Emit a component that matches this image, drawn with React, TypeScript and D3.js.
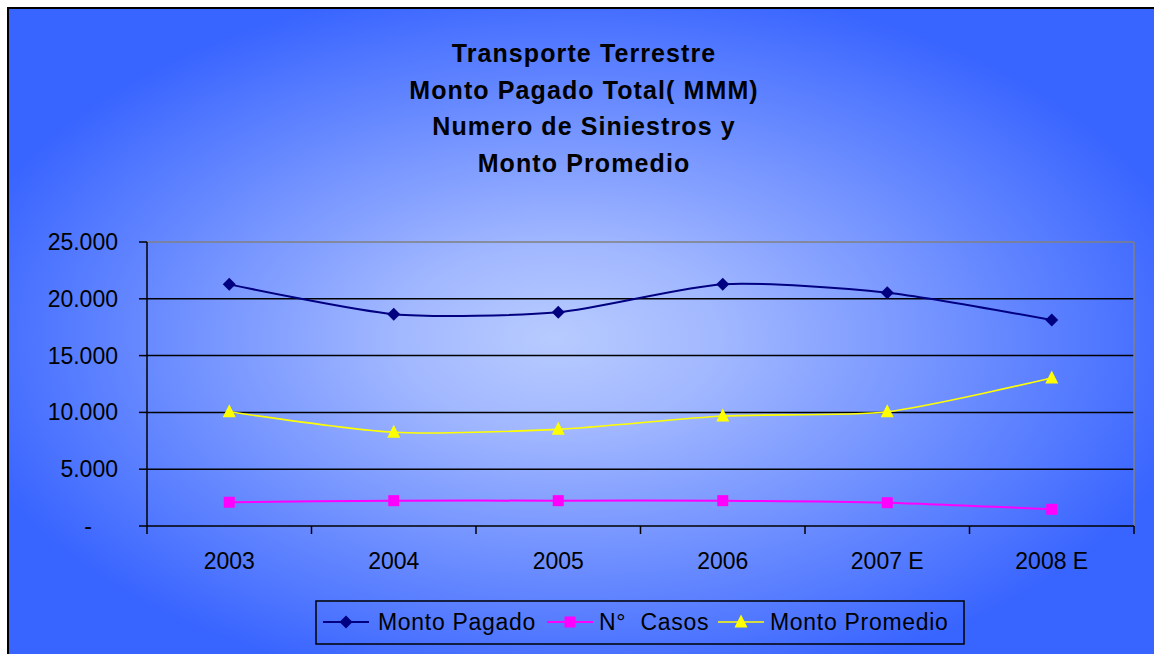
import React from "react";
import * as d3 from "d3";

const categories = ["2003", "2004", "2005", "2006", "2007 E", "2008 E"];
const montoPagado = [21270, 18650, 18820, 21290, 20540, 18130];
const numCasos = [2090, 2230, 2230, 2230, 2050, 1470];
const montoPromedio = [10050, 8250, 8510, 9680, 10060, 13030];
const yTicks = [0, 5000, 10000, 15000, 20000, 25000];
const yTickLabels = ["-", "5.000", "10.000", "15.000", "20.000", "25.000"];
const titleLines = [
  "Transporte Terrestre",
  "Monto Pagado Total( MMM)",
  "Numero de Siniestros y",
  "Monto Promedio",
];
const seriesNames = ["Monto Pagado", "N°  Casos", "Monto Promedio"];

const W = 1154;
const H = 654;
const plot = { left: 147, right: 1134, top: 242, bottom: 526 };
const FONT = "'Liberation Sans', Arial, sans-serif";

export default function App() {
  const x = d3
    .scaleBand<string>()
    .domain(categories)
    .range([plot.left, plot.right])
    .paddingInner(0)
    .paddingOuter(0);
  const y = d3.scaleLinear().domain([0, 25000]).range([plot.bottom, plot.top]);
  const cx = (c: string) => (x(c) as number) + x.bandwidth() / 2;

  const line = d3
    .line<number>()
    .x((_, i) => cx(categories[i]))
    .y((v) => y(v))
    .curve(d3.curveCardinal.tension(0.3));

  const series = [
    { name: seriesNames[0], data: montoPagado, color: "#000080", width: 2, marker: "diamond", mfill: "#000080" },
    { name: seriesNames[1], data: numCasos, color: "#ff00ff", width: 2, marker: "square", mfill: "#ff00ff" },
    { name: seriesNames[2], data: montoPromedio, color: "#ffff00", width: 1.6, marker: "triangle", mfill: "#ffff00" },
  ];

  const marker = (type: string, px: number, py: number, fill: string, key: string) => {
    if (type === "diamond") {
      const s = 6.5;
      return <path key={key} d={`M${px},${py - s}L${px + s},${py}L${px},${py + s}L${px - s},${py}Z`} fill={fill} />;
    }
    if (type === "square") {
      const s = 5.5;
      return <rect key={key} x={px - s} y={py - s} width={2 * s} height={2 * s} fill={fill} />;
    }
    const s = 6.5;
    return <path key={key} d={`M${px},${py - s - 1}L${px + s},${py + s - 1}L${px - s},${py + s - 1}Z`} fill={fill} />;
  };

  const boundaries = [...categories.map((c) => x(c) as number), plot.right];

  const legendItems = [
    { lx: 323, tx: 378 },
    { lx: 547, tx: 599 },
    { lx: 718, tx: 770 },
  ];

  return (
    <svg
      width={W}
      height={H}
      style={{ position: "absolute", left: 0, top: 0, display: "block" }}
      fontFamily={FONT}
    >
      <defs>
        <radialGradient id="bg" cx="0.49" cy="0.5" r="0.55" fx="0.47" fy="0.5">
          <stop offset="0" stopColor="#b8cbff" />
          <stop offset="0.25" stopColor="#a2b8ff" />
          <stop offset="1" stopColor="#3864ff" />
        </radialGradient>
      </defs>
      <rect x={0} y={0} width={W} height={H} fill="#ffffff" />
      <rect x={8} y={8} width={1160} height={660} fill="url(#bg)" stroke="#000" strokeWidth={2} />

      {/* title */}
      {titleLines.map((t, i) => (
        <text
          key={t}
          x={584}
          y={62 + i * 36.7}
          textAnchor="middle"
          fontWeight="bold"
          fontSize={25}
          letterSpacing={1.1}
          fill="#000"
        >
          {t}
        </text>
      ))}

      {/* gridlines */}
      {yTicks.slice(1, -1).map((t) => (
        <line key={t} x1={plot.left} x2={plot.right} y1={y(t)} y2={y(t)} stroke="#000" strokeWidth={1.5} />
      ))}
      {/* plot border top/right */}
      <line x1={plot.left} x2={plot.right} y1={plot.top} y2={plot.top} stroke="#808080" strokeWidth={1.5} />
      <line x1={plot.right} x2={plot.right} y1={plot.top} y2={plot.bottom} stroke="#808080" strokeWidth={1.5} />

      {/* axes */}
      <line x1={plot.left} x2={plot.left} y1={plot.top} y2={plot.bottom} stroke="#000" strokeWidth={1.5} />
      <line x1={plot.left} x2={plot.right} y1={plot.bottom} y2={plot.bottom} stroke="#000" strokeWidth={1.5} />
      {yTicks.map((t, i) => (
        <g key={t}>
          <line x1={plot.left - 8} x2={plot.left} y1={y(t)} y2={y(t)} stroke="#000" strokeWidth={1.5} />
          <text
            x={t === 0 ? 92 : 118}
            y={y(t) + 8}
            textAnchor="end"
            fontSize={23}
            fill="#000"
          >
            {yTickLabels[i]}
          </text>
        </g>
      ))}
      {boundaries.map((b, i) => (
        <line key={i} x1={b} x2={b} y1={plot.bottom} y2={plot.bottom + 8} stroke="#000" strokeWidth={1.5} />
      ))}
      {categories.map((c) => (
        <text key={c} x={cx(c)} y={569} textAnchor="middle" fontSize={23} fill="#000">
          {c}
        </text>
      ))}

      {/* series */}
      {series.map((s) => (
        <g key={s.name}>
          <path d={line(s.data) || ""} fill="none" stroke={s.color} strokeWidth={s.width} />
          {s.data.map((v, i) => marker(s.marker, cx(categories[i]), y(v), s.mfill, s.name + i))}
        </g>
      ))}

      {/* legend */}
      <rect x={316} y={601} width={648} height={43} fill="none" stroke="#000" strokeWidth={1.5} />
      {series.map((s, i) => {
        const it = legendItems[i];
        const ly = 622;
        return (
          <g key={s.name}>
            <line x1={it.lx} x2={it.lx + 46} y1={ly} y2={ly} stroke={s.color} strokeWidth={s.width} />
            {marker(s.marker, it.lx + 23, ly, s.mfill, "lg" + i)}
            <text x={it.tx} y={630} fontSize={23} letterSpacing={0.7} fill="#000" style={{ whiteSpace: "pre" }}>
              {s.name}
            </text>
          </g>
        );
      })}
    </svg>
  );
}
